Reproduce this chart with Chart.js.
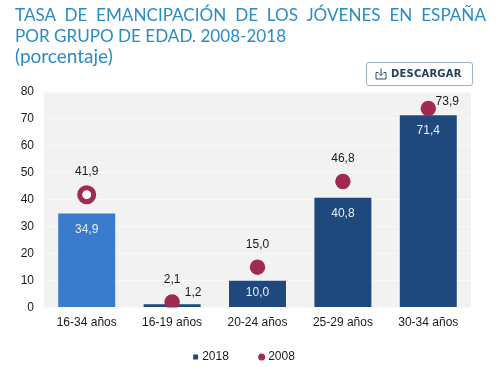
<!DOCTYPE html>
<html lang="es">
<head>
<meta charset="utf-8">
<title>Tasa de emancipación</title>
<script src="https://cdn.jsdelivr.net/npm/chart.js@4"></script>
<style>
    html, body { margin: 0; padding: 0; background: #fff; }
    #wrap { position: relative; width: 497px; height: 367px; overflow: hidden; }
    #chart { position: absolute; left: 0; top: 0; }
    #title {
        position: absolute; left: 15px; top: 5px; width: 471px;
        font-family: Lato, sans-serif; font-size: 17.1px; line-height: 20.5px; color: #2a8cc4;
    }
    #title .first { text-align: justify; text-align-last: justify; }
    #title .unit { font-size: 19px; }
    #btn {
        position: absolute; left: 366px; top: 62px; width: 105px; height: 22px;
        border: 1px solid #9db3c8; border-radius: 3px; box-sizing: content-box;
        font: bold 10px "DejaVu Sans", sans-serif; color: #24405f; line-height: 22px;
        box-shadow: 0 0 1px #c5d3df;
    }
    #btn svg { position: absolute; left: 8px; top: 5px; }
    #btn span { position: absolute; left: 24px; top: 0; letter-spacing: 0.2px; }
</style>
</head>
<body>
<div id="wrap">
    <canvas id="chart" width="497" height="367"></canvas>
    <div id="title">
        <div class="first">TASA DE EMANCIPACIÓN DE LOS JÓVENES EN ESPAÑA</div>
        <div>POR GRUPO DE EDAD. 2008-2018</div>
        <div class="unit">(porcentaje)</div>
    </div>
    <div id="btn">
        <svg width="12" height="12" viewBox="0 0 12 12" fill="none" stroke="#2c4a6e" stroke-width="1">
            <path d="M3.5 4.5H1v6.5h10V4.5H8.5M6 0.5v7M4 5.5l2 2 2-2"/>
        </svg>
        <span>DESCARGAR</span>
    </div>
</div>
<script>
const categories = ['16-34 años', '16-19 años', '20-24 años', '25-29 años', '30-34 años'];
const values2018 = [34.9, 1.2, 10.0, 40.8, 71.4];
const values2008 = [41.9, 2.1, 15.0, 46.8, 73.9];
const yTicks = [0, 10, 20, 30, 40, 50, 60, 70, 80];

const fmt = v => v.toFixed(1).replace('.', ',');
const FONT = '"Liberation Sans", Arial, sans-serif';

// label offsets from the mark, [dx, dy]
const offs2018 = [[0, 16], [21, -12], [0, 12], [0, 16], [0, 16]];
const offs2008 = [[0, -23], [0, -22], [0, -22.5], [0, -23], [19, -7]];

const plotBg = {
    id: 'plotBg',
    beforeDraw(chart) {
        const a = chart.chartArea;
        chart.ctx.fillStyle = '#f2f2f2';
        chart.ctx.fillRect(a.left, a.top, a.right - a.left, a.bottom - a.top);
    }
};

const valueLabels = {
    id: 'valueLabels',
    afterDatasetsDraw(chart) {
        const ctx = chart.ctx;
        ctx.save();
        ctx.font = '12px ' + FONT;
        ctx.textAlign = 'center';
        ctx.textBaseline = 'middle';
        chart.getDatasetMeta(0).data.forEach((el, i) => {
            // the small bar has its label outside
            ctx.fillStyle = i === 1 ? '#1a1a1a' : '#e8eef6';
            ctx.fillText(fmt(values2018[i]), el.x + offs2018[i][0], el.y + offs2018[i][1]);
        });
        ctx.fillStyle = '#1a1a1a';
        chart.getDatasetMeta(1).data.forEach((el, i) => {
            ctx.fillText(fmt(values2008[i]), el.x + offs2008[i][0], el.y + offs2008[i][1]);
        });
        ctx.restore();
    }
};

new Chart(document.getElementById('chart'), {
    data: {
        labels: categories,
        datasets: [
            {
                type: 'bar',
                label: '2018',
                data: values2018,
                order: 2,
                backgroundColor: ['#3a7bcd', '#1f497d', '#1f497d', '#1f497d', '#1f497d'],
                barPercentage: 0.667,
                categoryPercentage: 1,
                pointStyle: 'rect'
            },
            {
                type: 'line',
                label: '2008',
                data: values2008,
                order: 1,
                showLine: false,
                pointStyle: 'circle',
                pointRadius: [7, 7.7, 7.7, 7.7, 7.7],
                pointBorderWidth: [5, 0, 0, 0, 0],
                pointBackgroundColor: ['#ffffff', '#a02b50', '#a02b50', '#a02b50', '#a02b50'],
                pointBorderColor: '#a02b50',
                backgroundColor: '#a02b50',
                borderColor: '#a02b50'
            }
        ]
    },
    options: {
        responsive: false,
        animation: false,
        layout: { padding: { left: 19, right: 26, top: 92, bottom: -6 } },
        plugins: {
            title: { display: false },
            tooltip: { enabled: false },
            legend: {
                position: 'bottom',
                labels: {
                    usePointStyle: true,
                    boxWidth: 1,
                    boxHeight: 5,
                    padding: 9,
                    font: { family: FONT, size: 12 },
                    generateLabels(chart) {
                        // trailing spaces widen the gap between the two entries
                        return chart.data.datasets.map((d, i) => ({
                            text: d.type === 'bar' ? d.label + '\u00a0'.repeat(7) : d.label,
                            fontColor: '#1a1a1a',
                            fillStyle: d.type === 'bar' ? '#1f497d' : '#a02b50',
                            strokeStyle: d.type === 'bar' ? '#1f497d' : '#a02b50',
                            lineWidth: 0,
                            pointStyle: d.pointStyle,
                            datasetIndex: i
                        }));
                    }
                }
            }
        },
        scales: {
            x: {
                afterFit(scale) { scale.height += 4; },
                grid: { display: false, drawTicks: false },
                border: { display: false },
                ticks: { color: '#1a1a1a', font: { family: FONT, size: 12 }, padding: 8, maxRotation: 0 }
            },
            y: {
                min: 0,
                max: 80,
                afterFit(scale) { scale.width = 25; },
                afterBuildTicks(scale) { scale.ticks = yTicks.map(v => ({ value: v })); },
                grid: { color: '#f9f9f9', drawTicks: false },
                border: { display: false },
                ticks: { color: '#1a1a1a', font: { family: FONT, size: 12 }, padding: 10 }
            }
        }
    },
    plugins: [plotBg, valueLabels]
});
</script>
</body>
</html>
